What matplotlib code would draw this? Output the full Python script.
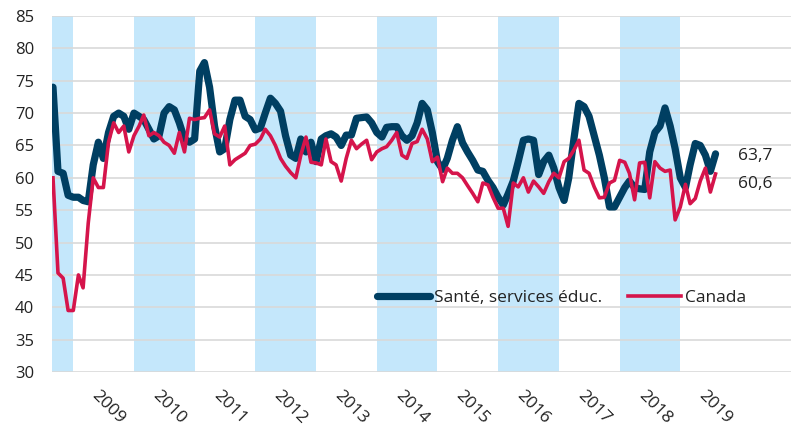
import numpy as np
import pandas as pd
import matplotlib
matplotlib.use("Agg")
import matplotlib.pyplot as plt
import matplotlib.dates as mdates

plt.rcParams['font.family'] = ['Open Sans', 'DejaVu Sans']

# --- monthly series, Sep 2008 -> Aug 2019 ---
sante = [
    74.0, 61.0, 60.7, 57.3,                                                  # 2008
    57.0, 57.0, 56.5, 56.3, 62.0, 65.5, 63.0, 67.0, 69.5, 70.0, 69.5, 67.5,  # 2009
    70.0, 69.5, 69.0, 67.5, 66.0, 66.5, 70.0, 71.0, 70.5, 68.5, 66.0, 65.5,  # 2010
    66.0, 76.5, 77.8, 74.0, 68.0, 64.0, 64.5, 69.0, 72.0, 72.0, 69.5, 69.0,  # 2011
    67.4, 67.7, 70.0, 72.3, 71.5, 70.3, 66.5, 63.5, 63.0, 66.0, 64.0, 65.5,  # 2012
    62.5, 66.0, 66.5, 66.8, 66.3, 65.0, 66.6, 66.6, 69.2, 69.3, 69.4, 68.5,  # 2013
    67.0, 66.3, 67.8, 67.9, 67.9, 66.5, 65.8, 66.5, 68.5, 71.5, 70.5, 67.0,  # 2014
    62.5, 61.3, 63.0, 65.8, 67.9, 65.4, 64.0, 62.7, 61.2, 61.0, 59.6, 58.5,  # 2015
    57.0, 55.8, 57.5, 59.5, 62.5, 65.8, 66.0, 65.8, 60.5, 62.5, 63.5, 61.5,  # 2016
    58.5, 56.5, 60.0, 66.0, 71.5, 71.0, 69.5, 66.5, 63.5, 60.0, 55.5, 55.5,  # 2017
    57.0, 58.5, 59.5, 58.5, 58.3, 58.2, 64.0, 67.0, 68.0, 70.8, 68.0, 64.5,  # 2018
    60.0, 58.5, 62.0, 65.3, 65.0, 63.5, 61.0, 63.7,                          # 2019
]
canada = [
    60.0, 45.3, 44.5, 39.5,
    39.5, 45.0, 43.0, 53.0, 60.0, 58.5, 58.5, 65.5, 68.5, 67.0, 68.0, 64.0,
    66.5, 68.0, 69.7, 66.5, 67.0, 66.5, 65.5, 65.0, 63.8, 67.0, 64.0, 69.2,
    69.0, 69.2, 69.3, 70.5, 66.8, 66.3, 68.0, 62.0, 62.8, 63.3, 63.8, 65.0,
    65.2, 66.0, 67.5, 66.5, 65.0, 63.0, 61.8, 60.8, 60.0, 63.5, 66.3, 62.4,
    62.3, 62.0, 66.0, 62.5, 62.0, 59.5, 63.0, 65.8, 64.5, 65.2, 65.8, 62.8,
    64.0, 64.5, 64.8, 65.8, 67.0, 63.5, 63.0, 65.3, 65.6, 67.5, 66.0, 62.5,
    63.2, 59.4, 61.5, 60.7, 60.7, 60.0, 58.8, 57.6, 56.3, 59.2, 58.9, 57.0,
    55.3, 55.3, 52.5, 59.2, 58.6, 60.0, 57.8, 59.5, 58.6, 57.6, 59.4, 60.7,
    60.0, 62.5, 63.0, 64.3, 65.8, 61.2, 60.7, 58.6, 56.9, 57.0, 59.2, 59.6,
    62.7, 62.4, 60.7, 56.6, 62.3, 62.4, 56.9, 62.5, 61.5, 61.0, 61.2, 53.5,
    55.5, 59.0, 56.0, 56.8, 59.5, 61.5, 57.8, 60.6,
]
start_month = "2008-09-01"
series_labels = ["Santé, services éduc.", "Canada"]
year_labels = list(range(2009, 2020))
shaded_years = [2008, 2010, 2012, 2014, 2016, 2018]
y_ticks = list(range(30, 90, 5))

NAVY = "#003f62"
RED = "#d5144b"
BAND = "#c4e7fb"
GRID = "#d9d9d9"
TXT = "#222222"

dates = pd.date_range(start_month, periods=len(sante), freq="MS")

fig = plt.figure(figsize=(7.91, 4.29), dpi=100)
ax = fig.add_axes([52 / 791, 1 - 372 / 429, 1 - 52 / 791, (372 - 16) / 429])

# alternating year bands
for yr in shaded_years:
    ax.axvspan(pd.Timestamp(f"{yr}-01-01"), pd.Timestamp(f"{yr + 1}-01-01"),
               color=BAND, lw=0, zorder=0)

ax.set_ylim(30, 85)
ax.set_yticks(y_ticks)
ax.yaxis.grid(True, color=GRID, lw=1.2, zorder=1)
ax.set_axisbelow(True)
for s in ax.spines.values():
    s.set_visible(False)

ln1, = ax.plot(dates, sante, color=NAVY, lw=5.2, solid_joinstyle="round",
               solid_capstyle="round", zorder=3, label=series_labels[0])
ln2, = ax.plot(dates, canada, color=RED, lw=2.6, solid_joinstyle="round",
               zorder=4, label=series_labels[1])

ax.set_xlim(pd.Timestamp("2008-08-26"), pd.Timestamp("2020-10-28"))
ax.set_xticks([])
ax.tick_params(axis="y", length=0, pad=13, labelsize=12, labelcolor=TXT)

# rotated year labels under each year
for yr in year_labels:
    xpos = mdates.date2num(pd.Timestamp(f"{yr}-06-10"))
    ax.annotate(str(yr), xy=(xpos, 0), xycoords=("data", "axes fraction"),
                xytext=(0, -11), textcoords="offset points",
                rotation=-45, rotation_mode="anchor", ha="left", va="top",
                fontsize=12.5, color=TXT)

# end-of-series values
ax.annotate(f"{sante[-1]:.1f}".replace(".", ","), xy=(dates[-1], sante[-1]),
            xytext=(16, -1.5), textcoords="offset points", va="center", ha="left",
            fontsize=12.5, color=TXT)
ax.annotate(f"{canada[-1]:.1f}".replace(".", ","), xy=(dates[-1], canada[-1]),
            xytext=(16, -7.5), textcoords="offset points", va="center", ha="left",
            fontsize=12.5, color=TXT)

ax.legend(handles=[ln1, ln2], ncol=2, frameon=False, loc="center",
          bbox_to_anchor=(0.689, 0.208), fontsize=12.5, handlelength=3.05,
          handletextpad=0.23, columnspacing=1.5, labelcolor=TXT)

fig.savefig("out.png", dpi=100)
